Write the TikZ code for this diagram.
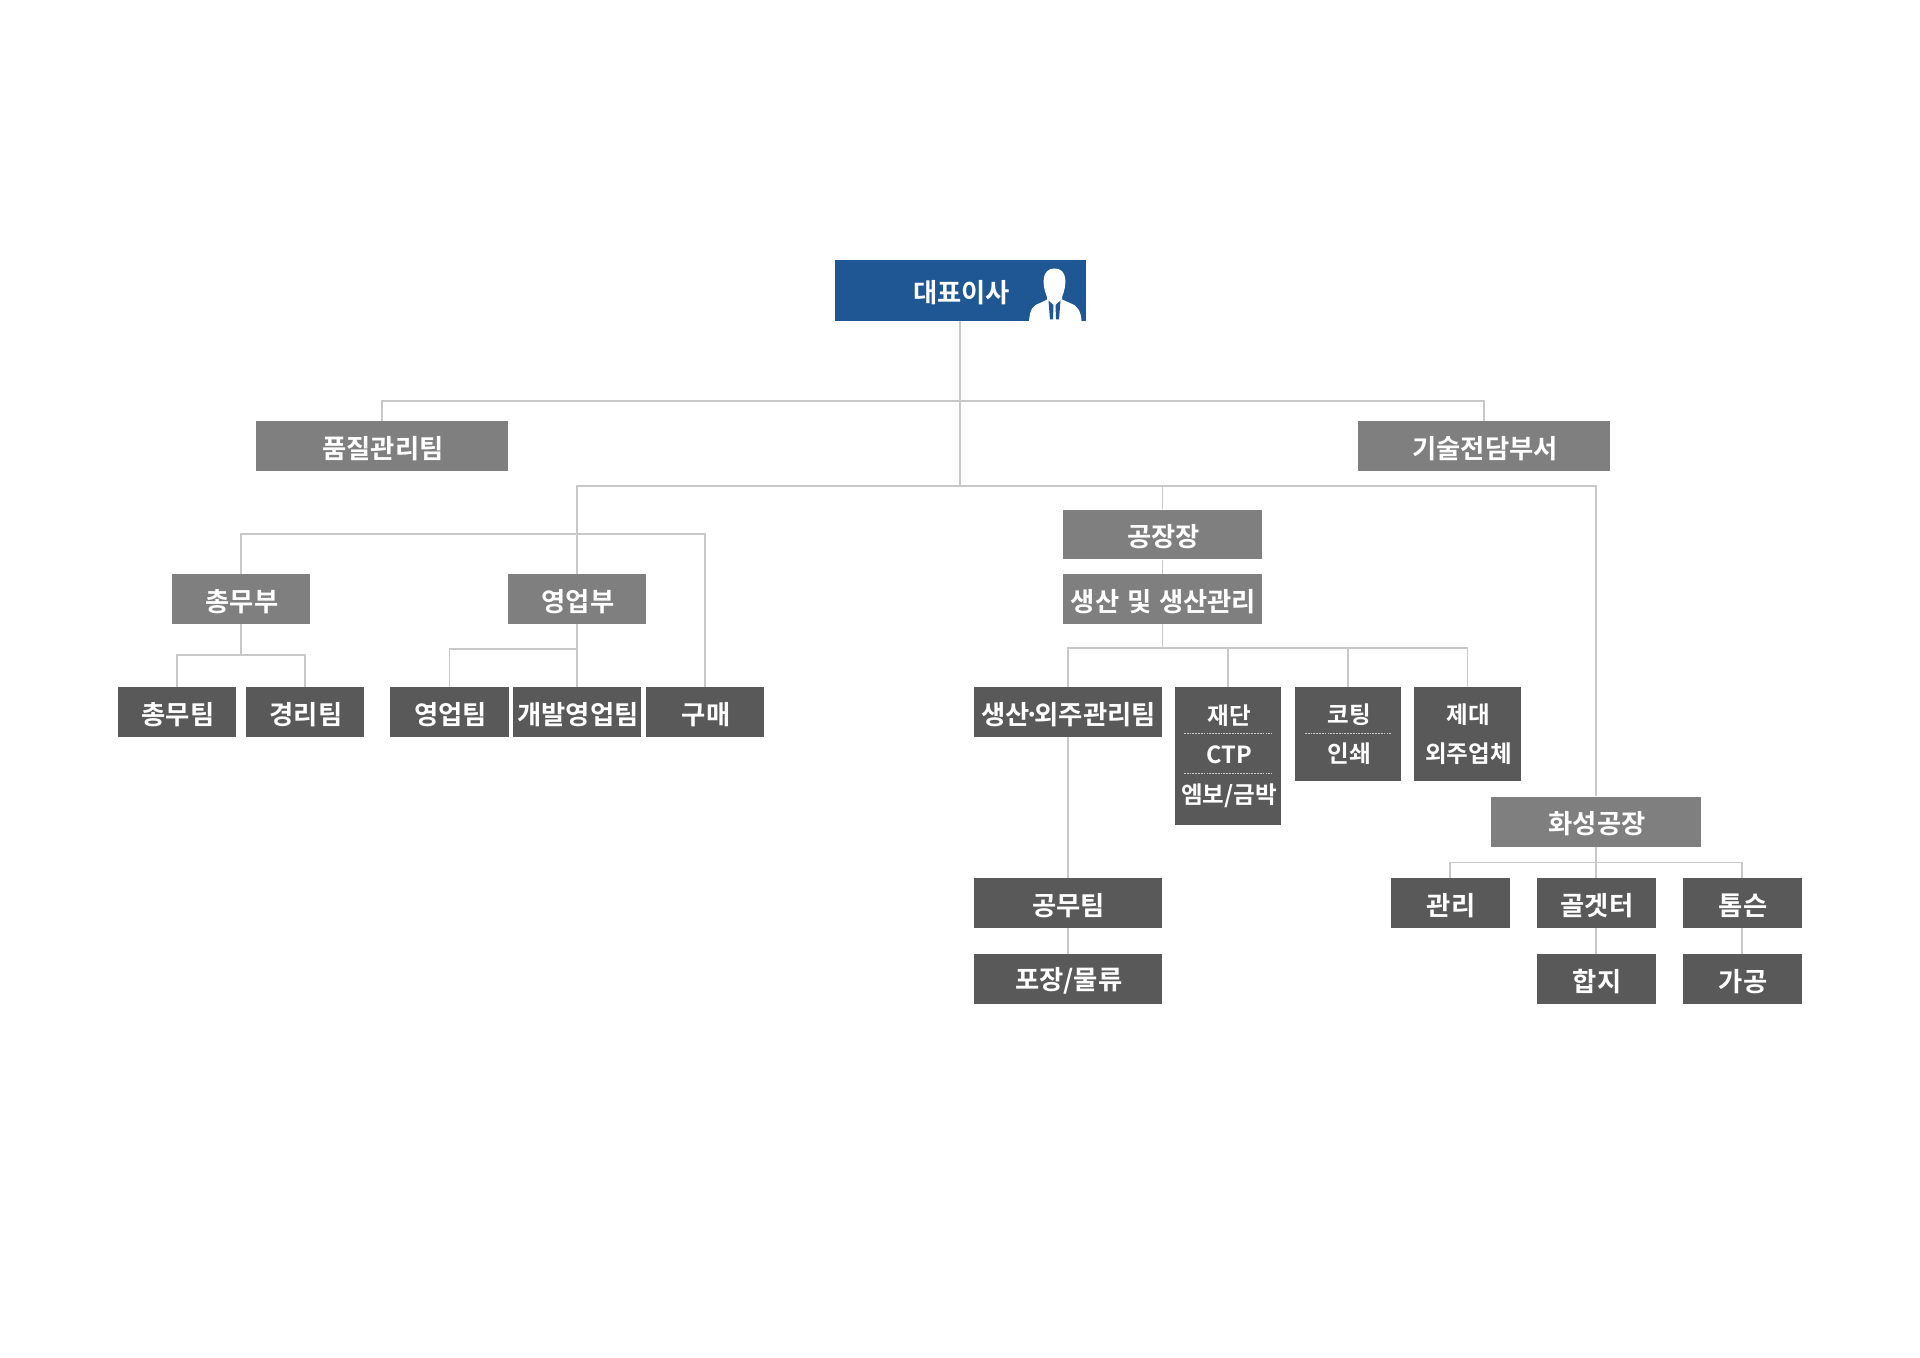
\documentclass[tikz,border=0pt]{standalone}
\usepackage{fontspec}
\setmainfont{Noto Sans CJK KR}[BoldFont={Noto Sans CJK KR Bold}]
\usetikzlibrary{arrows.meta, positioning, shapes}

\begin{document}
\begin{tikzpicture}[
    x=0.02cm, y=-0.02cm,
    base box/.style={rectangle, text=white, font=\fontsize{15}{22.4}\selectfont\bfseries, inner sep=0pt, minimum height=1cm, align=center, execute at begin node={\rule{0pt}{15.2pt}\hspace{1.2pt}}},
    ceo box/.style={base box, fill=ceoblue, minimum width=5.04cm, minimum height=1.22cm},
    mid box/.style={base box, fill=midgray},
    dark box/.style={base box, fill=darkgray},
    stack box/.style={dark box, font=\fontsize{13.4}{22.4}\selectfont\bfseries, execute at begin node={\rule{0pt}{13.4pt}}},
    link/.style={draw=linegray, line width=1.1pt},
    cut/.style={draw=white!80!black, line width=0.5pt, dash pattern=on 1pt off .6pt}
]
\definecolor{ceoblue}{HTML}{1F5795}
\definecolor{midgray}{HTML}{7F7F7F}
\definecolor{darkgray}{HTML}{595959}
\definecolor{linegray}{HTML}{C8C8C8}
\useasboundingbox (0,0) rectangle (1920,1358);

% top
\node[ceo box] (ceo) at (960.5,290.5) {대표이사};
\node[mid box, minimum width=5.03cm] (quality) at (382,446) {품질관리팀};
\node[mid box, minimum width=5.03cm] (tech) at (1484,446) {기술전담부서};

% left side
\node[mid box, minimum width=2.76cm] (admin) at (241,599) {총무부};
\node[mid box, minimum width=2.76cm] (sales) at (577,599) {영업부};
\node[dark box, minimum width=2.38cm] (adminteam) at (177,712) {총무팀};
\node[dark box, minimum width=2.38cm] (account) at (305,712) {경리팀};
\node[dark box, minimum width=2.38cm] (salesteam) at (449.5,712) {영업팀};
\node[dark box, minimum width=2.56cm] (devsales) at (577,712) {개발영업팀};
\node[dark box, minimum width=2.38cm] (purchase) at (705,712) {구매};

% factory
\node[mid box, minimum width=4cm] (plant) at (1162.5,534.5) {공장장};
\node[mid box, minimum width=4cm] (prod) at (1162.5,599) {생산\hspace{1pt} 및\hspace{1pt} 생산관리};
\node[dark box, minimum width=3.76cm] (outsource) at (1067.6,712) {생산\kern-.21em·\kern-.21em외주관리팀};
\node[stack box, minimum width=2.13cm, minimum height=2.76cm] (cutting) at (1228,756) {재단\\CTP\\엠보/금박};
\node[stack box, minimum width=2.13cm, minimum height=1.88cm] (coating) at (1348,734) {코팅\\인쇄};
\node[stack box, minimum width=2.13cm, minimum height=1.88cm] (making) at (1467.5,734) {제대\\외주업체};
\node[dark box, minimum width=3.76cm] (works) at (1067.6,903) {공무팀};
\node[dark box, minimum width=3.76cm] (packing) at (1067.6,979) {포장/물류};

% second plant
\node[mid box, minimum width=4.19cm] (hwaseong) at (1596,821.5) {화성공장};
\node[dark box, minimum width=2.38cm] (manage) at (1450,903) {관리};
\node[dark box, minimum width=2.38cm] (gluer) at (1596,903) {골겟터};
\node[dark box, minimum width=2.38cm] (thomson) at (1742,903) {톰슨};
\node[dark box, minimum width=2.38cm] (laminate) at (1596,979) {합지};
\node[dark box, minimum width=2.38cm] (process) at (1742,979) {가공};

% dashes inside the boxes
\draw[cut] (1184,733) -- (1272,733);
\draw[cut] (1184,773) -- (1272,773);
\draw[cut] (1305,733) -- (1392,733);

% connectors
\coordinate (top bus) at (960,401);
\coordinate (main bus) at (960,486);
\coordinate (left bus) at (577,534);
\coordinate (prod bus) at (1162.5,648);
\coordinate (admin bus) at (241,655);
\coordinate (sales bus) at (577,649);
\coordinate (hw bus) at (1596,862.5);

\draw[link] (ceo.south -| main bus) -- (main bus);
\draw[link] (quality.north) |- (top bus) -| (tech.north);
\draw[link] (left bus) -- (main bus -| left bus) -- (main bus) -- (main bus -| hwaseong) -- (hwaseong.north);
\draw[link] (main bus -| plant) -- (plant.north);
\draw[link] (plant) -- (prod);
\draw[link] (admin.north) |- (left bus) -| (purchase.north);
\draw[link] (left bus) -- (sales.north);
\draw[link] (admin) -- (admin bus);
\draw[link] (adminteam.north) |- (admin bus) -| (account.north);
\draw[link] (sales) -- (devsales);
\draw[link] (salesteam.north) |- (sales bus);
\draw[link] (prod) -- (prod bus);
\draw[link] (outsource.north) |- (prod bus) -| (making.north);
\draw[link] (prod bus -| cutting) -- (cutting.north);
\draw[link] (prod bus -| coating) -- (coating.north);
\draw[link] (outsource) -- (works);
\draw[link] (works) -- (packing);
\draw[link] (hwaseong) -- (gluer);
\draw[link] (manage.north) |- (hw bus) -| (thomson.north);
\draw[link] (gluer) -- (laminate);
\draw[link] (thomson) -- (process);

% person on the ceo box
\fill[white] (1029,321) .. controls (1030,309) and (1033,305.5) .. (1040,303) -- (1047,299.5) -- (1047,297) .. controls (1042,285) and (1041,268.5) .. (1054.5,268.5) .. controls (1068,268.5) and (1067,285) .. (1062,297) -- (1062,299.5) -- (1071,303.5) .. controls (1078,306) and (1081,312) .. (1081.5,321) -- cycle;
\fill[ceoblue] (1048.5,300.5) -- (1053.5,305) -- (1053,319.5) -- (1050,319.5) -- cycle;
\fill[ceoblue] (1060.5,300.5) -- (1055.5,305) -- (1056,319.5) -- (1059,319.5) -- cycle;
\end{tikzpicture}
\end{document}
